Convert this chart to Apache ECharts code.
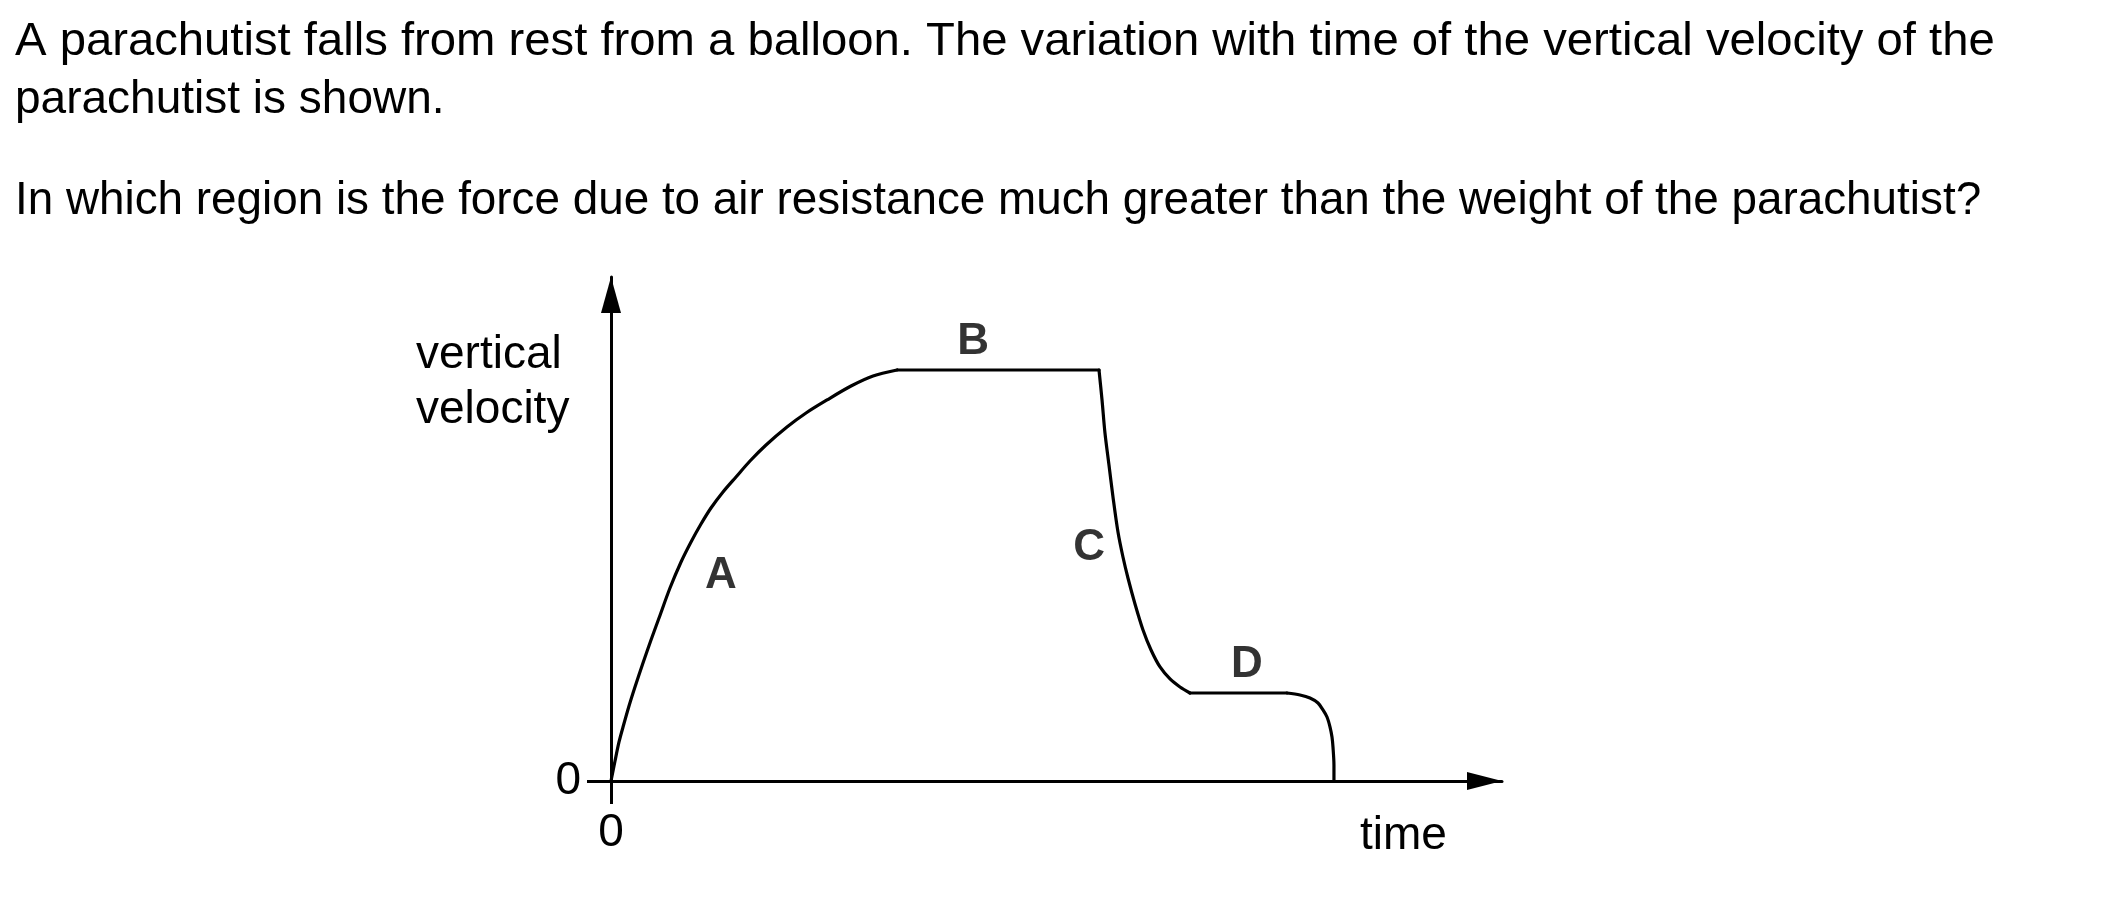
<!DOCTYPE html>
<html>
<head>
<meta charset="utf-8">
<script src="https://cdn.jsdelivr.net/npm/echarts@6/dist/echarts.min.js"></script>
<style>
html,body{margin:0;padding:0;background:#fff;}
#chart{width:2101px;height:913px;}
</style>
</head>
<body>
<div id="chart"></div>
<script>
// Data (time and velocity in arbitrary units, 0..100 axis span)
const timeValues = [
  0, 0.45, 0.90, 1.35, 2.02, 2.69, 3.59, 4.49, 5.39, 6.62, 7.86, 8.98, 10.10, 11.22, 12.57, 14.03, 15.60, 17.40, 19.75, 21.89, 24.24, 26.94, 29.41, 32.10,
  54.77, 55.11, 55.44, 55.89, 56.34, 56.90, 57.46, 58.02, 58.81, 59.71, 60.61, 61.62, 62.74, 63.86, 64.98,
  75.87, 77.33, 78.45, 79.35, 79.91, 80.36, 80.70, 80.92, 81.03, 81.14, 81.14
];
const velocityValues = [
  0, 3.97, 7.74, 10.71, 14.88, 18.65, 23.41, 27.98, 32.34, 38.29, 43.45, 47.42, 50.99, 54.17, 57.34, 60.32, 63.49, 66.67, 70.24, 73.02, 75.60, 78.37, 80.36, 81.55,
  81.55, 75.60, 69.05, 62.70, 56.35, 49.40, 44.44, 40.28, 35.12, 29.96, 25.99, 22.62, 20.24, 18.65, 17.46,
  17.46, 17.06, 16.47, 15.48, 14.09, 12.70, 10.71, 8.73, 6.75, 3.17, 0
];
// indices where the curve has a sharp corner (curve pieces are smoothed between them)
const cornerIndex = [0, 23, 24, 38, 39, 49];
const straightPieces = [false, true, false, true, false];

const regionNames = ['A', 'B', 'C', 'D'];
const regionTime = [12.33, 40.63, 53.65, 71.38];
const regionVelocity = [40.67, 87.10, 46.20, 23.00];
const tickLabels = ['0'];
const questionLines = [
  'A parachutist falls from rest from a balloon. The variation with time of the vertical velocity of the',
  'parachutist is shown.',
  'In which region is the force due to air resistance much greater than the weight of the parachutist?'
];
const yAxisTitle = ['vertical', 'velocity'];
const xAxisTitle = 'time';

const FONT = '"Liberation Sans", Arial, Helvetica, sans-serif';
const chart = echarts.init(document.getElementById('chart'), null, {renderer: 'canvas'});

const curve = timeValues.map((t, i) => [t, velocityValues[i]]);
const regions = regionNames.map((n, i) => ({name: n, value: [regionTime[i], regionVelocity[i]]}));

const qTops = [19, 77, 178];
const qScale = [1.027, 1, 0.996];
const graphics = questionLines.map((s, i) => ({
  type: 'text', x: 15, y: qTops[i], scaleX: qScale[i],
  style: {text: s, font: '46px ' + FONT, fill: '#000', verticalAlign: 'top', align: 'left'}
}));
graphics.push({type: 'text', x: 416, y: 332, style: {text: yAxisTitle[0], font: '46px ' + FONT, fill: '#000', verticalAlign: 'top'}});
graphics.push({type: 'text', x: 416, y: 387, style: {text: yAxisTitle[1], font: '46px ' + FONT, fill: '#000', verticalAlign: 'top'}});
graphics.push({type: 'text', x: 1360, y: 813, style: {text: xAxisTitle, font: '46px ' + FONT, fill: '#000', verticalAlign: 'top'}});

const axisCommon = {
  type: 'value', min: 0, max: 100,
  splitLine: {show: false}
};

const curveSeries = [];
for (let k = 0; k < cornerIndex.length - 1; k++) {
  curveSeries.push({
    type: 'line', data: curve.slice(cornerIndex[k], cornerIndex[k + 1] + 1),
    showSymbol: false, symbol: 'none',
    smooth: straightPieces[k] ? false : 0.3,
    lineStyle: {color: '#000', width: 3.2, join: 'round', cap: 'round'}, z: 3
  });
}

chart.setOption({
  animation: false,
  backgroundColor: '#fff',
  graphic: graphics,
  grid: {left: 611, top: 277, width: 891, height: 504, containLabel: false, outerBoundsMode: 'none'},
  xAxis: Object.assign({}, axisCommon, {
    axisLine: {show: true, onZero: false, lineStyle: {color: '#000', width: 3},
      symbol: ['none', 'triangle'], symbolSize: [18, 35], symbolOffset: [0, -17.5]},
    axisTick: {show: true, length: 23, inside: false, lineStyle: {color: '#000', width: 3}, customValues: [0]},
    axisLabel: {show: true, margin: 29, color: '#000', fontSize: 46, fontFamily: FONT,
      customValues: [0], formatter: () => tickLabels[0]}
  }),
  yAxis: Object.assign({}, axisCommon, {
    axisLine: {show: true, onZero: false, lineStyle: {color: '#000', width: 3},
      symbol: ['none', 'triangle'], symbolSize: [20, 36], symbolOffset: [0, -18]},
    axisTick: {show: true, length: 24, inside: false, lineStyle: {color: '#000', width: 3}, customValues: [0]},
    axisLabel: {show: true, margin: 30, color: '#000', fontSize: 46, fontFamily: FONT,
      customValues: [0], formatter: () => tickLabels[0]}
  }),
  series: curveSeries.concat([
    {
      type: 'scatter', data: regions, symbolSize: 0,
      label: {show: true, position: 'inside', formatter: p => p.name,
        color: '#000', fontSize: 44, fontWeight: 'bold', fontFamily: FONT}
    }
  ])
});
</script>
</body>
</html>
